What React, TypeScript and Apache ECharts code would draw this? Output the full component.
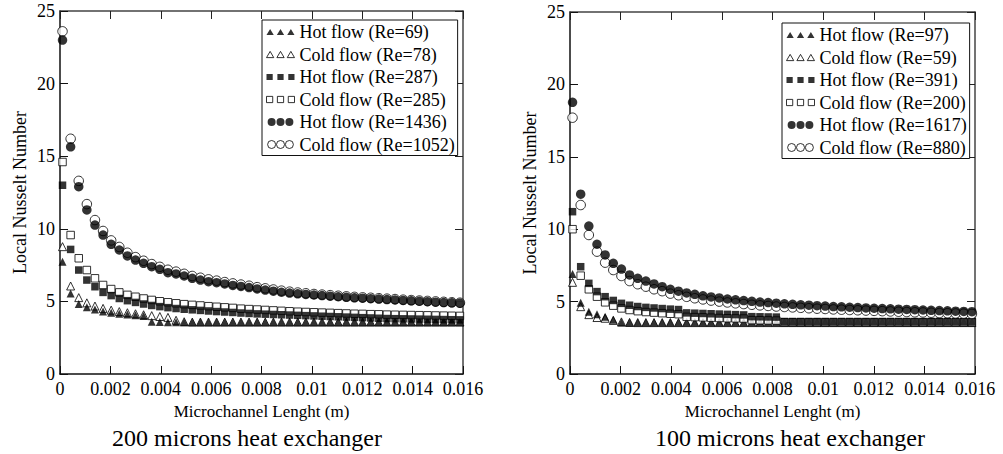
import React, { useEffect, useRef } from "react";
import * as echarts from "echarts";

// Shared x positions (m) of the measurement points
const X = [
  0.0001, 0.000422, 0.000744, 0.001066, 0.001388, 0.00171, 0.002032, 0.002354, 0.002676, 0.002998,
  0.00332, 0.003642, 0.003964, 0.004286, 0.004608, 0.00493, 0.005252, 0.005574, 0.005896, 0.006218,
  0.00654, 0.006862, 0.007184, 0.007506, 0.007828, 0.00815, 0.008472, 0.008794, 0.009116, 0.009438,
  0.00976, 0.010082, 0.010404, 0.010726, 0.011048, 0.01137, 0.011692, 0.012014, 0.012336, 0.012658,
  0.01298, 0.013302, 0.013624, 0.013946, 0.014268, 0.01459, 0.014912, 0.015234, 0.015556, 0.015878,
];

// ---- 200 microns heat exchanger ----
const L_HOT_TRI = [
  7.73, 5.55, 4.82, 4.59, 4.45, 4.3, 4.22, 4.15, 4.1, 4.05,
  4.0, 3.6, 3.58, 3.57, 3.57, 3.57, 3.57, 3.57, 3.57, 3.57,
  3.57, 3.57, 3.57, 3.57, 3.57, 3.57, 3.57, 3.57, 3.57, 3.57,
  3.57, 3.57, 3.57, 3.57, 3.57, 3.57, 3.57, 3.57, 3.57, 3.57,
  3.57, 3.57, 3.57, 3.57, 3.57, 3.57, 3.57, 3.57, 3.57, 3.57,
];
const L_COLD_TRI = [
  8.77, 6.06, 5.26, 4.9, 4.68, 4.52, 4.4, 4.3, 4.22, 4.15,
  4.08, 4.02, 3.96, 3.9, 3.7, 3.6, 3.58, 3.58, 3.58, 3.58,
  3.58, 3.58, 3.58, 3.58, 3.58, 3.58, 3.58, 3.58, 3.58, 3.58,
  3.58, 3.58, 3.58, 3.58, 3.58, 3.58, 3.58, 3.58, 3.58, 3.58,
  3.58, 3.58, 3.58, 3.58, 3.58, 3.58, 3.58, 3.58, 3.58, 3.58,
];
const L_HOT_SQ = [
  13.0, 8.58, 7.16, 6.47, 6.01, 5.62, 5.4, 5.2, 5.05, 4.93,
  4.82, 4.72, 4.64, 4.57, 4.51, 4.46, 4.42, 4.38, 4.34, 4.3,
  4.27, 4.24, 4.2, 4.17, 4.14, 4.12, 4.1, 4.08, 4.06, 4.04,
  4.02, 4.0, 3.98, 3.96, 3.94, 3.92, 3.9, 3.88, 3.86, 3.84,
  3.82, 3.81, 3.8, 3.79, 3.78, 3.77, 3.76, 3.75, 3.74, 3.73,
];
const L_COLD_SQ = [
  14.6, 9.57, 7.97, 7.16, 6.59, 6.13, 5.85, 5.62, 5.45, 5.32,
  5.2, 5.1, 5.01, 4.94, 4.87, 4.81, 4.76, 4.72, 4.67, 4.63,
  4.59, 4.55, 4.5, 4.47, 4.44, 4.41, 4.38, 4.35, 4.32, 4.29,
  4.27, 4.25, 4.23, 4.21, 4.19, 4.17, 4.15, 4.14, 4.12, 4.11,
  4.09, 4.08, 4.07, 4.06, 4.05, 4.04, 4.03, 4.02, 4.01, 4.0,
];
const L_HOT_CIR = [
  23.0, 15.65, 12.9, 11.3, 10.26, 9.57, 8.93, 8.54, 8.13, 7.85,
  7.62, 7.39, 7.21, 6.98, 6.89, 6.75, 6.59, 6.47, 6.36, 6.29,
  6.2, 6.1, 6.03, 5.95, 5.86, 5.78, 5.7, 5.63, 5.57, 5.52,
  5.48, 5.44, 5.4, 5.36, 5.32, 5.28, 5.25, 5.22, 5.19, 5.16,
  5.13, 5.1, 5.07, 5.04, 5.01, 4.98, 4.95, 4.92, 4.9, 4.88,
];
const L_COLD_CIR = [
  23.6, 16.2, 13.3, 11.7, 10.6, 9.85, 9.2, 8.75, 8.35, 8.05,
  7.8, 7.57, 7.38, 7.18, 7.05, 6.9, 6.75, 6.63, 6.52, 6.43,
  6.33, 6.24, 6.16, 6.08, 5.98, 5.9, 5.82, 5.74, 5.67, 5.61,
  5.56, 5.51, 5.47, 5.43, 5.39, 5.35, 5.31, 5.28, 5.25, 5.22,
  5.19, 5.16, 5.12, 5.09, 5.06, 5.03, 5.0, 4.97, 4.94, 4.91,
];

// ---- 100 microns heat exchanger ----
const R_HOT_TRI = [
  6.9, 4.92, 4.3, 4.12, 3.96, 3.75, 3.55, 3.55, 3.55, 3.55,
  3.55, 3.55, 3.55, 3.55, 3.55, 3.55, 3.55, 3.55, 3.55, 3.55,
  3.55, 3.55, 3.55, 3.55, 3.55, 3.55, 3.55, 3.55, 3.55, 3.55,
  3.55, 3.55, 3.55, 3.55, 3.55, 3.55, 3.55, 3.55, 3.55, 3.55,
  3.55, 3.55, 3.55, 3.55, 3.55, 3.55, 3.55, 3.55, 3.55, 3.55,
];
const R_COLD_TRI = [
  6.33, 4.65, 4.1, 3.9, 3.85, 3.7, 3.6, 3.56, 3.55, 3.55,
  3.55, 3.55, 3.55, 3.55, 3.55, 3.55, 3.55, 3.55, 3.55, 3.55,
  3.55, 3.55, 3.55, 3.55, 3.55, 3.55, 3.55, 3.55, 3.55, 3.55,
  3.55, 3.55, 3.55, 3.55, 3.55, 3.55, 3.55, 3.55, 3.55, 3.55,
  3.55, 3.55, 3.55, 3.55, 3.55, 3.55, 3.55, 3.55, 3.55, 3.55,
];
const R_HOT_SQ = [
  11.21, 7.41, 6.26, 5.69, 5.34, 5.08, 4.88, 4.75, 4.66, 4.6,
  4.56, 4.52, 4.48, 4.45, 4.22, 4.2, 4.18, 4.16, 4.14, 4.12,
  4.1, 4.08, 3.96, 3.95, 3.94, 3.93, 3.62, 3.62, 3.62, 3.62,
  3.62, 3.62, 3.62, 3.62, 3.62, 3.62, 3.62, 3.62, 3.62, 3.62,
  3.62, 3.62, 3.62, 3.62, 3.62, 3.62, 3.62, 3.62, 3.62, 3.62,
];
const R_COLD_SQ = [
  10.0, 6.79, 5.85, 5.34, 4.95, 4.72, 4.53, 4.42, 4.34, 4.28,
  4.24, 4.2, 4.16, 4.13, 3.95, 3.93, 3.91, 3.89, 3.87, 3.85,
  3.84, 3.83, 3.72, 3.71, 3.7, 3.69, 3.58, 3.58, 3.58, 3.58,
  3.58, 3.58, 3.58, 3.58, 3.58, 3.58, 3.58, 3.58, 3.58, 3.58,
  3.58, 3.58, 3.58, 3.58, 3.58, 3.58, 3.58, 3.58, 3.58, 3.58,
];
const R_HOT_CIR = [
  18.76, 12.42, 10.22, 8.96, 8.22, 7.64, 7.25, 6.84, 6.61, 6.42,
  6.22, 6.03, 5.85, 5.72, 5.6, 5.5, 5.4, 5.32, 5.25, 5.18,
  5.12, 5.07, 5.02, 4.97, 4.93, 4.89, 4.85, 4.81, 4.78, 4.75,
  4.72, 4.69, 4.66, 4.64, 4.61, 4.59, 4.56, 4.54, 4.52, 4.5,
  4.48, 4.46, 4.44, 4.42, 4.4, 4.38, 4.36, 4.34, 4.32, 4.3,
];
const R_COLD_CIR = [
  17.7, 11.67, 9.6, 8.45, 7.69, 7.18, 6.77, 6.42, 6.2, 6.03,
  5.85, 5.72, 5.55, 5.44, 5.33, 5.23, 5.15, 5.07, 5.0, 4.94,
  4.88, 4.83, 4.78, 4.74, 4.7, 4.66, 4.63, 4.6, 4.57, 4.54,
  4.51, 4.49, 4.46, 4.44, 4.42, 4.4, 4.38, 4.36, 4.34, 4.32,
  4.3, 4.28, 4.26, 4.25, 4.23, 4.21, 4.2, 4.18, 4.17, 4.15,
];

const LEFT_NAMES = [
  "Hot flow (Re=69)", "Cold flow (Re=78)", "Hot flow (Re=287)",
  "Cold flow (Re=285)", "Hot flow (Re=1436)", "Cold flow (Re=1052)",
];
const RIGHT_NAMES = [
  "Hot flow (Re=97)", "Cold flow (Re=59)", "Hot flow (Re=391)",
  "Cold flow (Re=200)", "Hot flow (Re=1617)", "Cold flow (Re=880)",
];
const X_TICKS = [0, 0.002, 0.004, 0.006, 0.008, 0.01, 0.012, 0.014, 0.016];
const SUBTITLES = ["200 microns heat exchanger", "100 microns heat exchanger"];
const X_TITLE = "Microchannel Lenght (m)";
const Y_TITLE = "Local Nusselt Number";

const FONT = "'Liberation Serif', 'Times New Roman', serif";
const INK = "#000";

const TRI_ICON = "path://M0,6L3.5,0L7,6Z M10,6L13.5,0L17,6Z M20,6L23.5,0L27,6Z";
const SQ_ICON = "path://M0,0L6,0L6,6L0,6Z M10.5,0L16.5,0L16.5,6L10.5,6Z M21,0L27,0L27,6L21,6Z";
const CIR_ICON =
  "path://M0,4.5A4.5,4.5 0 1 1 9,4.5A4.5,4.5 0 1 1 0,4.5Z M10,4.5A4.5,4.5 0 1 1 19,4.5A4.5,4.5 0 1 1 10,4.5Z M20,4.5A4.5,4.5 0 1 1 29,4.5A4.5,4.5 0 1 1 20,4.5Z";

const filled = { color: INK, borderColor: INK, borderWidth: 0 };
const open = { color: "#fff", borderColor: INK, borderWidth: 1 };

export default function App() {
  const ref = useRef<HTMLDivElement>(null);

  useEffect(() => {
    if (!ref.current) return;
    const chart = echarts.init(ref.current, null, { renderer: "svg" });

    const grids = [
      { left: 60, top: 11, width: 403, height: 363 },
      { left: 570, top: 12, width: 405, height: 362 },
    ];

    const xFmt = (v: number) => {
      const t = X_TICKS.find((k) => Math.abs(k - v) < 1e-9);
      return t === undefined ? "" : String(t);
    };

    const xAxes: any[] = [];
    const yAxes: any[] = [];
    [0, 1].forEach((g) => {
      xAxes.push({
        gridIndex: g,
        type: "value",
        min: 0,
        max: 0.016,
        interval: 0.002,
        position: "bottom",
        axisLine: { show: true, onZero: false, lineStyle: { color: "#111", width: 1.5 } },
        axisTick: { show: true, inside: true, length: 8, lineStyle: { color: "#111", width: 1 } },
        axisLabel: { color: INK, fontFamily: FONT, fontSize: 18, margin: 6, formatter: xFmt },
        splitLine: { show: false },
        name: X_TITLE,
        nameLocation: "middle",
        nameGap: 28,
        nameTextStyle: { color: INK, fontFamily: FONT, fontSize: 17 },
      });
      yAxes.push({
        gridIndex: g,
        type: "value",
        min: 0,
        max: 25,
        interval: 5,
        position: "left",
        axisLine: { show: true, onZero: false, lineStyle: { color: "#111", width: 1.5 } },
        axisTick: { show: true, inside: true, length: 8, lineStyle: { color: "#111", width: 1 } },
        axisLabel: { color: INK, fontFamily: FONT, fontSize: 18, margin: 5 },
        splitLine: { show: false },
        name: Y_TITLE,
        nameLocation: "middle",
        nameGap: 31,
        nameRotate: 90,
        nameTextStyle: { color: INK, fontFamily: FONT, fontSize: 18 },
      });
    });
    [0, 1].forEach((g) => {
      xAxes.push({
        gridIndex: g,
        type: "value",
        min: 0,
        max: 0.016,
        interval: 0.002,
        position: "top",
        axisLine: { show: true, onZero: false, lineStyle: { color: "#444", width: 1.5 } },
        axisTick: { show: true, inside: true, length: 8, lineStyle: { color: "#222", width: 1 } },
        axisLabel: { show: false },
        splitLine: { show: false },
      });
      yAxes.push({
        gridIndex: g,
        type: "value",
        min: 0,
        max: 25,
        interval: 5,
        position: "right",
        axisLine: { show: true, onZero: false, lineStyle: { color: "#444", width: 1.5 } },
        axisTick: { show: true, inside: true, length: 8, lineStyle: { color: "#222", width: 1 } },
        axisLabel: { show: false },
        splitLine: { show: false },
      });
    });

    const mk = (vals: number[]) => X.map((x, i) => [x, vals[i]]);

    const panels = [
      {
        names: LEFT_NAMES,
        data: [L_HOT_TRI, L_COLD_TRI, L_HOT_SQ, L_COLD_SQ, L_HOT_CIR, L_COLD_CIR],
      },
      {
        names: RIGHT_NAMES,
        data: [R_HOT_TRI, R_COLD_TRI, R_HOT_SQ, R_COLD_SQ, R_HOT_CIR, R_COLD_CIR],
      },
    ];
    const symbols = ["triangle", "triangle", "rect", "rect", "circle", "circle"];
    const sizes = [8, 8, 7.5, 7.5, 9.5, 9.5];
    const icons = [TRI_ICON, TRI_ICON, SQ_ICON, SQ_ICON, CIR_ICON, CIR_ICON];
    const styles = [filled, open, filled, open, filled, open];
    // draw cold (open) first, hot (filled) on top, within each marker kind
    const drawOrder = [1, 0, 3, 2, 5, 4];

    const series: any[] = [];
    panels.forEach((p, g) => {
      drawOrder.forEach((k) => {
        series.push({
          type: "scatter",
          name: p.names[k],
          xAxisIndex: g,
          yAxisIndex: g,
          symbol: symbols[k],
          symbolSize: sizes[k],
          itemStyle: styles[k],
          emphasis: { disabled: true },
          data: mk(p.data[k]),
        });
      });
    });

    const legendPos = [
      { left: 262, top: 20 },
      { left: 782, top: 23 },
    ];
    const legends = panels.map((p, g) => ({
      ...legendPos[g],
      orient: "vertical",
      selectedMode: false,
      backgroundColor: "#fff",
      borderColor: "#111",
      borderWidth: 1,
      padding: [3, 3, 2, 4],
      itemWidth: 28,
      itemHeight: 8,
      itemGap: 4.5,
      symbolKeepAspect: true,
      textStyle: { color: INK, fontFamily: FONT, fontSize: 18, lineHeight: 18 },
      data: p.names.map((n, k) => ({ name: n, icon: icons[k], itemStyle: styles[k] })),
    }));

    chart.setOption({
      animation: false,
      backgroundColor: "#fff",
      textStyle: { fontFamily: FONT },
      grid: grids,
      xAxis: xAxes,
      yAxis: yAxes,
      legend: legends,
      series,
      graphic: [
        {
          type: "text",
          x: 247,
          y: 438,
          style: {
            text: SUBTITLES[0],
            fontFamily: FONT,
            fontSize: 24,
            fill: INK,
            align: "center",
            verticalAlign: "middle",
          },
        },
        {
          type: "text",
          x: 790,
          y: 438,
          style: {
            text: SUBTITLES[1],
            fontFamily: FONT,
            fontSize: 24,
            fill: INK,
            align: "center",
            verticalAlign: "middle",
          },
        },
      ],
    });

    return () => chart.dispose();
  }, []);

  return (
    <div
      ref={ref}
      style={{ position: "fixed", left: 0, top: 0, width: 1003, height: 454, background: "#fff" }}
    />
  );
}
